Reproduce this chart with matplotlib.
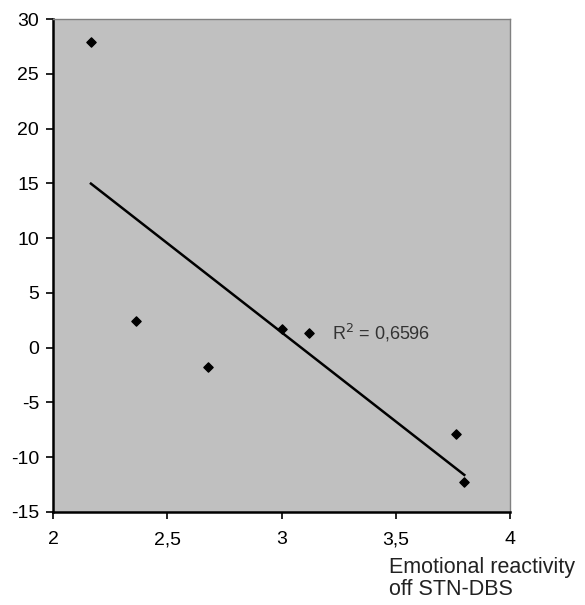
import matplotlib
matplotlib.use("Agg")
import matplotlib.pyplot as plt
import numpy as np

plt.rcParams['font.family'] = ['Liberation Sans', 'DejaVu Sans']
plt.rcParams['axes.unicode_minus'] = False

# values
x_vals = [2.166, 2.363, 2.678, 3.002, 3.12, 3.764, 3.80]
y_vals = [27.9, 2.45, -1.75, 1.72, 1.35, -7.87, -12.24]
x_ticks = [2, 2.5, 3, 3.5, 4]
x_tick_labels = ['2', '2,5', '3', '3,5', '4']
y_ticks = [-15, -10, -5, 0, 5, 10, 15, 20, 25, 30]
r2_label = 'R$^2$ = 0,6596'

fig = plt.figure(figsize=(5.85, 6.05), dpi=100)
ax = fig.add_axes([53 / 585, 1 - 512 / 605, (510 - 53) / 585, (512 - 19) / 605])
ax.set_facecolor('#c0c0c0')

ax.scatter(x_vals, y_vals, marker='D', s=22, color='black', zorder=3)

# linear trend line over the data range
slope, icpt = np.polyfit(x_vals, y_vals, 1)
xs = np.array([min(x_vals), max(x_vals)])
ax.plot(xs, slope * xs + icpt, color='black', linewidth=1.8, zorder=2)

ax.text(3.22, 1.3, r2_label, fontsize=13, color='#333333', va='center', ha='left')

ax.set_xlim(2, 4)
ax.set_ylim(-15, 30)
ax.set_xticks(x_ticks)
ax.set_xticklabels(x_tick_labels)
ax.set_yticks(y_ticks)
ax.tick_params(direction='out', length=5, width=1.2, labelsize=14, colors='black')
ax.tick_params(axis='x', pad=9)
ax.tick_params(axis='y', pad=5)

for side in ['left', 'bottom']:
    ax.spines[side].set_linewidth(1.8)
    ax.spines[side].set_color('black')
for side in ['top', 'right']:
    ax.spines[side].set_linewidth(1)
    ax.spines[side].set_color('#808080')

fig.text(389 / 585, 1 - 557 / 605, 'Emotional reactivity\noff STN-DBS',
         fontsize=15.5, ha='left', va='top', linespacing=1.07, color='#222222')

fig.savefig('out.png', dpi=100)
